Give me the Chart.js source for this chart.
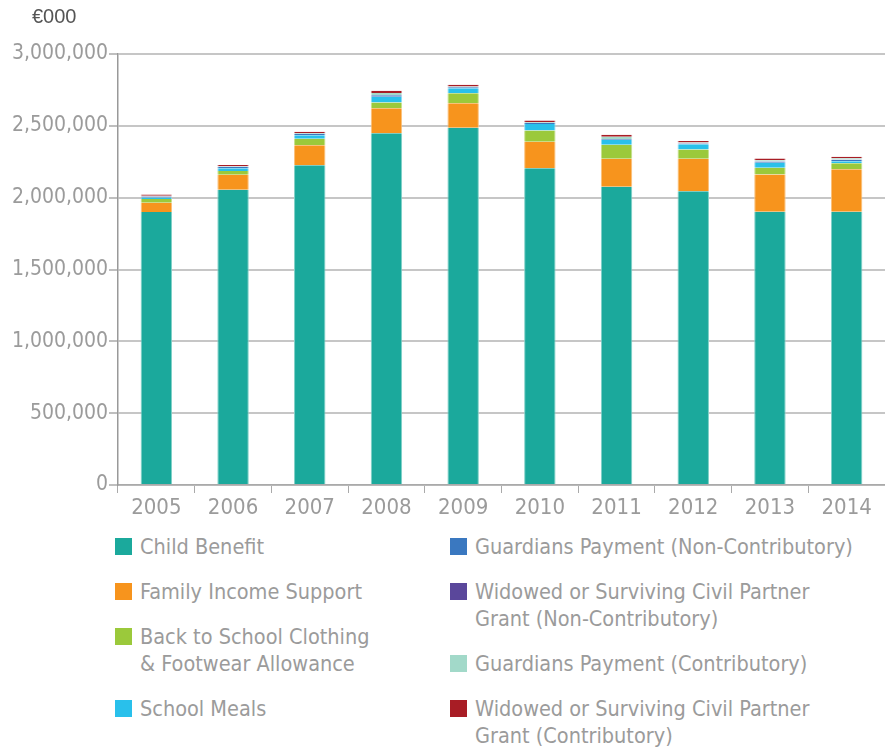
<!DOCTYPE html>
<html>
<head>
<meta charset="utf-8">
<script src="https://cdn.jsdelivr.net/npm/chart.js@4/dist/chart.umd.min.js"></script>
<style>
  html, body { margin: 0; padding: 0; background: #ffffff; }
  #wrap { position: relative; width: 885px; height: 751px; overflow: hidden;
          font-family: "DejaVu Sans Condensed", "Liberation Sans", sans-serif; }
  #chartBox { position: absolute; left: 0; top: 0; width: 885px; height: 525px; }
  #unit { position: absolute; left: 32px; top: 5px; font-family: "Liberation Sans", sans-serif;
          font-size: 20px; color: #555555; }
  .col { position: absolute; top: 533px; display: flex; flex-direction: column; gap: 18px; }
  .item { display: flex; align-items: flex-start; font-size: 21.5px; line-height: 27px; color: #9b9b9b;
          white-space: nowrap; }
  .sw { width: 17px; height: 17px; flex: none; margin-top: 5px; margin-right: 8px; }
</style>
</head>
<body>
<div id="wrap">
  <div id="chartBox"><canvas id="c"></canvas></div>
  <div id="unit">€000</div>
  <div class="col" id="col1" style="left:115px"></div>
  <div class="col" id="col2" style="left:450px"></div>
</div>
<script>
// Social welfare spending on children and families, €000
const years = ['2005', '2006', '2007', '2008', '2009', '2010', '2011', '2012', '2013', '2014'];

const childBenefit        = [1900000, 2055000, 2225000, 2448000, 2487000, 2204000, 2076000, 2044000, 1902000, 1902000];
const familyIncomeSupport = [65000, 105000, 140000, 175000, 170000, 186000, 195000, 227000, 260000, 295000];
const backToSchool        = [25000, 25000, 45000, 40000, 70000, 77000, 97000, 65000, 46000, 42000];
const schoolMeals         = [12000, 20000, 25000, 40000, 35000, 46000, 33000, 35000, 35000, 15000];
const guardiansNonContrib = [5000, 8000, 8000, 10000, 6000, 6000, 5000, 5000, 8000, 10000];
const widowedNonContrib   = [2000, 2000, 2000, 2000, 2000, 2000, 2000, 2000, 2000, 2000];
const guardiansContrib    = [5000, 4000, 5000, 14000, 4000, 6000, 16000, 6000, 8000, 8000];
const widowedContrib      = [8000, 8000, 8000, 15000, 12000, 10000, 14000, 10000, 12000, 10000];

const seriesNames = [
  ['Child Benefit'],
  ['Family Income Support'],
  ['Back to School Clothing', '& Footwear Allowance'],
  ['School Meals'],
  ['Guardians Payment (Non-Contributory)'],
  ['Widowed or Surviving Civil Partner', 'Grant (Non-Contributory)'],
  ['Guardians Payment (Contributory)'],
  ['Widowed or Surviving Civil Partner', 'Grant (Contributory)']
];

const yTicks = [0, 500000, 1000000, 1500000, 2000000, 2500000, 3000000];

// fill colours and slightly lighter edge colours for each series
const fills = ['#1ba99c', '#f7941d', '#9bc93b', '#29c0eb', '#3a78c0', '#5a479b', '#a2d9c9', '#a81d25'];
const edges = ['#7fd0c7', '#fbc07a', '#c6e18c', '#8fdcf3', '#8fb1dc', '#a699cc', '#cdeae1', '#d28a8e'];

const seriesValues = [childBenefit, familyIncomeSupport, backToSchool, schoolMeals,
                      guardiansNonContrib, widowedNonContrib, guardiansContrib, widowedContrib];

const datasets = seriesValues.map((vals, i) => ({
  label: seriesNames[i].join(' '),
  data: vals,
  backgroundColor: fills[i],
  borderColor: edges[i],
  borderWidth: { left: 1, right: 1, top: 0, bottom: 0 },
  borderSkipped: false,
  barPercentage: 0.41,
  categoryPercentage: 1.0
}));

const fam = '"DejaVu Sans Condensed", "Liberation Sans", sans-serif';

new Chart(document.getElementById('c'), {
  type: 'bar',
  data: { labels: years, datasets },
  options: {
    responsive: true,
    maintainAspectRatio: false,
    animation: false,
    layout: { padding: { top: 54, left: 0, right: 0, bottom: 0 } },
    plugins: { legend: { display: false }, tooltip: { enabled: false }, title: { display: false } },
    scales: {
      x: {
        stacked: true,
        grid: { display: true, drawOnChartArea: false, offset: true, tickLength: 8,
                tickColor: '#aaaaaa', lineWidth: 1 },
        border: { display: true, color: '#aaaaaa', width: 1.5 },
        ticks: { color: '#9b9b9b', font: { family: fam, size: 22 }, padding: 2, maxRotation: 0 },
        afterFit: s => { s.height = 40; }
      },
      y: {
        stacked: true,
        min: 0,
        max: 3000000,
        afterBuildTicks: s => { s.ticks = yTicks.map(v => ({ value: v })); },
        grid: { color: '#c6c6c6', lineWidth: 2, tickLength: 9, tickColor: '#aaaaaa', tickWidth: 1.5 },
        border: { display: true, color: '#999999', width: 1.5 },
        ticks: { color: '#9b9b9b', font: { family: fam, size: 21 }, padding: 1,
                 callback: v => Number(v).toLocaleString('en-US') },
        afterFit: s => { s.width = 118; }
      }
    }
  }
});

// two-column legend built from the same series
function addItem(col, i) {
  const item = document.createElement('div');
  item.className = 'item';
  const sw = document.createElement('span');
  sw.className = 'sw';
  sw.style.background = fills[i];
  const txt = document.createElement('span');
  txt.innerHTML = seriesNames[i].join('<br>');
  item.appendChild(sw);
  item.appendChild(txt);
  document.getElementById(col).appendChild(item);
}
[0, 1, 2, 3].forEach(i => addItem('col1', i));
[4, 5, 6, 7].forEach(i => addItem('col2', i));
</script>
</body>
</html>
